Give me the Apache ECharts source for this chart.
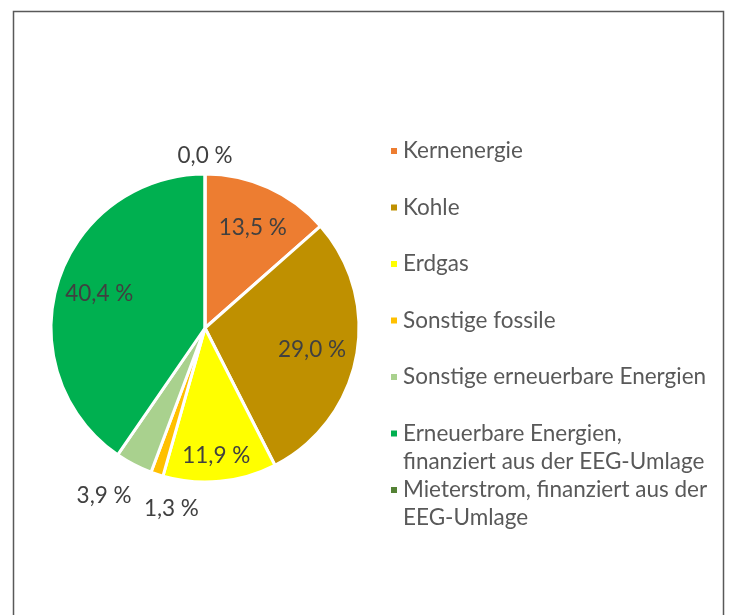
<!DOCTYPE html>
<html>
<head>
<meta charset="utf-8">
<script src="https://cdn.jsdelivr.net/npm/echarts@6/dist/echarts.min.js"></script>
<style>
    html, body { margin: 0; padding: 0; background: #fff; }
    #chart { width: 729px; height: 615px; }
</style>
</head>
<body>
<div id="chart"></div>
<script>
const categories = [
    'Kernenergie',
    'Kohle',
    'Erdgas',
    'Sonstige fossile',
    'Sonstige erneuerbare Energien',
    'Erneuerbare Energien, finanziert aus der EEG-Umlage',
    'Mieterstrom, finanziert aus der EEG-Umlage'
];
const shares = [13.5, 29.0, 11.9, 1.3, 3.9, 40.4, 0.0];
const legendLines = [
    'Kernenergie',
    'Kohle',
    'Erdgas',
    'Sonstige fossile',
    'Sonstige erneuerbare Energien',
    'Erneuerbare Energien,\nfinanziert aus der EEG-Umlage',
    'Mieterstrom, finanziert aus der\nEEG-Umlage'
];
const colors = ['#ED7D31', '#BF9000', '#FFFF00', '#FFC000', '#A9D18E', '#00B050', '#548235'];
// which labels sit inside the slices
const insideLabel = [true, true, true, false, false, true, false];

const fontFamily = 'Lato, "Open Sans", sans-serif';
const center = [205, 328];

function fmt(v) {
    return v.toFixed(1).replace('.', ',') + ' %';
}

function each(arr, fn) {
    for (let i = 0; i < arr.length; i++) fn(i, arr[i]);
}

const chart = echarts.init(document.getElementById('chart'), null, { renderer: 'canvas' });

let slices = [];
let inner = [];
let outer = [];
each(categories, function (i, name) {
    slices.push({ name: name, value: shares[i], itemStyle: { color: colors[i] } });
    inner.push({ name: name, value: shares[i], label: { show: insideLabel[i] } });
    outer.push({ name: name, value: shares[i], label: { show: !insideLabel[i] } });
});

// one legend per entry, so two-line entries keep the same step as the others
let legends = [];
each(categories, function (i, name) {
    const lines = legendLines[i].split('\n').length;
    const centerY = 151 + 56.5 * i;
    legends.push({
        data: [name],
        orient: 'vertical',
        left: 389,
        top: lines > 1 ? centerY - 42 : centerY - 14,
        padding: 0,
        icon: 'rect',
        itemWidth: 8,
        itemHeight: 8,
        itemGap: 0,
        selectedMode: false,
        formatter: function () {
            // blank first line keeps the marker level with the first text line
            return lines > 1 ? '\n' + legendLines[i] : legendLines[i];
        },
        textStyle: {
            fontFamily: fontFamily,
            fontSize: 22.5,
            color: '#595959',
            lineHeight: 28
        }
    });
});

const labelText = {
    fontFamily: fontFamily,
    fontSize: 22.5,
    color: '#404040'
};

chart.setOption({
    animation: false,
    legend: legends,
    graphic: [{
        type: 'rect',
        shape: { x: 13.5, y: 11.5, width: 710, height: 700 },
        style: { fill: 'none', stroke: '#595959', lineWidth: 1.5 },
        silent: true
    }],
    series: [{
        type: 'pie',
        center: center,
        radius: [0, 154],
        startAngle: 90,
        clockwise: true,
        avoidLabelOverlap: false,
        label: { show: false },
        labelLine: { show: false },
        itemStyle: { borderColor: '#ffffff', borderWidth: 3 },
        emphasis: { disabled: true },
        data: slices
    }, {
        type: 'pie',
        center: center,
        radius: [0, 226],
        startAngle: 90,
        clockwise: true,
        silent: true,
        avoidLabelOverlap: false,
        itemStyle: { color: 'rgba(0,0,0,0)' },
        label: Object.assign({ position: 'inside', formatter: function (p) { return fmt(p.value); } }, labelText),
        labelLine: { show: false },
        labelLayout: function (params) {
            if (params.dataIndex === 0) return { dy: 5 };
            if (params.dataIndex === 1) return { dx: -7 };
            if (params.dataIndex === 2) return { dy: 12 };
            if (params.dataIndex === 5) return { dx: 5 };
            return {};
        },
        data: inner
    }, {
        type: 'pie',
        center: center,
        radius: [0, 344],
        startAngle: 90,
        clockwise: true,
        silent: true,
        avoidLabelOverlap: false,
        itemStyle: { color: 'rgba(0,0,0,0)' },
        label: Object.assign({ position: 'inside', formatter: function (p) { return fmt(p.value); } }, labelText),
        labelLine: { show: false },
        labelLayout: function (params) {
            // nudge the two small slice labels like the original
            if (params.dataIndex === 3) return { dx: 21, dy: 14 };
            if (params.dataIndex === 4) return { dx: -20, dy: 13 };
            if (params.dataIndex === 6) return { dy: 3 };
            return {};
        },
        data: outer
    }]
});
</script>
</body>
</html>
